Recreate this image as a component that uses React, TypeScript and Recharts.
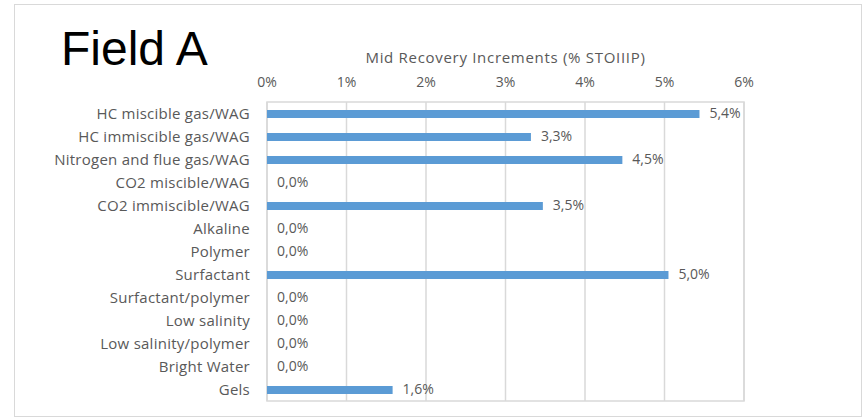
import React from 'react'
import { ComposedChart, Bar, Scatter, XAxis, YAxis, CartesianGrid, LabelList, ReferenceArea } from 'recharts'

const categories = [
  'HC miscible gas/WAG',
  'HC immiscible gas/WAG',
  'Nitrogen and flue gas/WAG',
  'CO2 miscible/WAG',
  'CO2 immiscible/WAG',
  'Alkaline',
  'Polymer',
  'Surfactant',
  'Surfactant/polymer',
  'Low salinity',
  'Low salinity/polymer',
  'Bright Water',
  'Gels',
]
const increments = [5.44, 3.32, 4.47, 0, 3.47, 0, 0, 5.05, 0, 0, 0, 0, 1.58]
const xTicks = [0, 1, 2, 3, 4, 5, 6]

const data = categories.map((name, i) => ({ name, value: increments[i] }))

const FONT = '"Open Sans", sans-serif'
const GRAY = '#595959'
const GRID = '#d9d9d9'

const fmt = (v: number) => v.toFixed(1).replace('.', ',') + '%'

// labels hang off an invisible scatter at the bar ends, so the 0,0% rows get one too
const ValueLabel = (props: any) => {
  const { x, y, width, height, value } = props
  const cx = Number(x) + Number(width || 0) / 2
  const cy = Number(y) + Number(height || 0) / 2
  return (
    <text x={cx + 10} y={cy} dy="0.355em" fill={GRAY} fontSize={14} fontFamily={FONT}>
      {fmt(Number(value))}
    </text>
  )
}

export default function App() {
  return (
    <div style={{ position: 'absolute', left: 0, top: 0, width: 862, height: 418, background: '#fff', fontFamily: FONT }}>
      <div style={{ position: 'absolute', left: 14, top: 4, width: 846, height: 411, border: '1px solid #d9d9d9' }} />
      <div style={{ position: 'absolute', left: 61, top: 21, fontFamily: 'Liberation Sans, Arial, sans-serif', fontSize: 48, color: '#000', lineHeight: '56px' }}>
        Field A
      </div>
      <div style={{ position: 'absolute', left: 0, top: 0 }}>
        <ComposedChart
          width={862}
          height={418}
          layout="vertical"
          data={data}
          margin={{ top: 63, right: 118, bottom: 17, left: 0 }}
          barCategoryGap={0}
        >
          <CartesianGrid horizontal={false} stroke={GRID} strokeWidth={1.5} />
          <ReferenceArea x1={0} x2={6} fill="none" stroke={GRID} strokeWidth={1.5} ifOverflow="extendDomain" />
          <XAxis
            type="number"
            dataKey="value"
            orientation="top"
            domain={[0, 6]}
            ticks={xTicks}
            tickFormatter={(v: number) => `${v}%`}
            height={39}
            axisLine={false}
            tickLine={false}
            tickSize={0}
            tickMargin={15}
            tick={{ fill: GRAY, fontSize: 14, fontFamily: FONT }}
            label={{ value: 'Mid Recovery Increments (% STOIIIP)', position: 'top', offset: 0, fill: GRAY, fontSize: 15, fontFamily: FONT, style: { letterSpacing: '0.7px' } }}
          />
          <YAxis
            type="category"
            dataKey="name"
            width={267}
            axisLine={false}
            tickLine={false}
            tickSize={0}
            tickMargin={17}
            interval={0}
            tick={{ fill: GRAY, fontSize: 15, fontFamily: FONT, letterSpacing: 0.25 }}
          />
          <Bar dataKey="value" fill="#5b9bd5" barSize={8} isAnimationActive={false} />
          <Scatter dataKey="value" fill="none" shape={() => <g />} isAnimationActive={false}>
            <LabelList dataKey="value" content={ValueLabel} />
          </Scatter>
        </ComposedChart>
      </div>
    </div>
  )
}
